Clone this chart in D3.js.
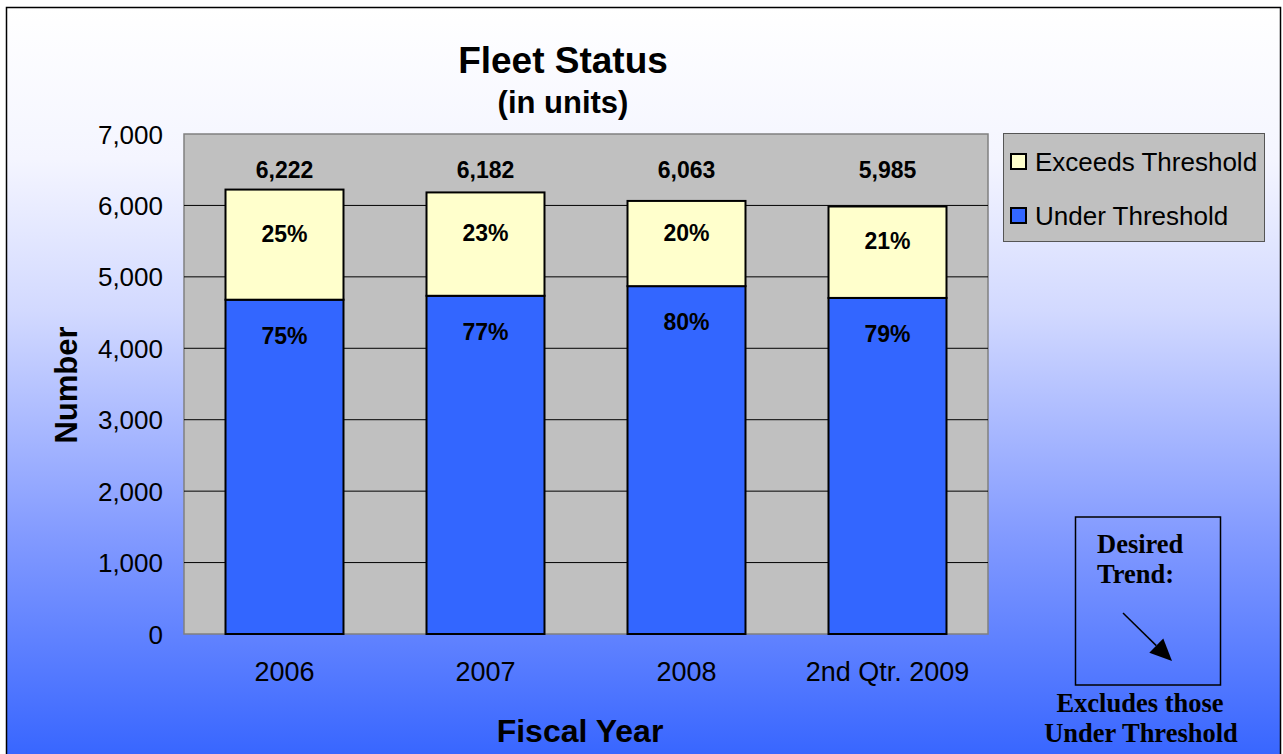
<!DOCTYPE html>
<html><head><meta charset="utf-8">
<script src="https://cdn.jsdelivr.net/npm/d3@7"></script>
<style>body{margin:0;background:#fff;}svg{display:block;}</style>
</head><body>
<script>
const categories = ["2006", "2007", "2008", "2nd Qtr. 2009"];
const underValues = [4680, 4735, 4870, 4705];
const exceedsValues = [1542, 1447, 1193, 1280];
const totals = ["6,222", "6,182", "6,063", "5,985"];
const underPct = ["75%", "77%", "80%", "79%"];
const exceedsPct = ["25%", "23%", "20%", "21%"];
const yTicks = [0, 1000, 2000, 3000, 4000, 5000, 6000, 7000];
const seriesNames = ["Exceeds Threshold", "Under Threshold"];

(function () {
const W = 1283, H = 754;
const svg = d3.select("body").append("svg").attr("width", W).attr("height", H);
const defs = svg.append("defs");
const grad = defs.append("linearGradient").attr("id", "bg").attr("x1", 0).attr("y1", 0).attr("x2", 0).attr("y2", 1);
[[0, "#ffffff"], [0.2, "#f4f5ff"], [0.4, "#d2d9ff"], [0.7, "#8199ff"], [1, "#3463ff"]].forEach(s =>
  grad.append("stop").attr("offset", s[0]).attr("stop-color", s[1]));

svg.append("rect").attr("x", 0).attr("y", 0).attr("width", W).attr("height", H).attr("fill", "#fff");
svg.append("rect").attr("x", 6.5).attr("y", 7.5).attr("width", 1274).attr("height", 760)
  .attr("fill", "url(#bg)").attr("stroke", "#000").attr("stroke-width", 1.5);

const pLeft = 184, pRight = 988, pTop = 134, pBottom = 634;
const x = d3.scaleBand().domain(categories).range([pLeft, pRight]).paddingInner(0.413).paddingOuter(0.2065);
const y = d3.scaleLinear().domain([0, 7000]).range([pBottom, pTop]);

svg.append("rect").attr("x", pLeft).attr("y", pTop).attr("width", pRight - pLeft).attr("height", pBottom - pTop)
  .attr("fill", "#c0c0c0").attr("stroke", "#808080").attr("stroke-width", 1.5);

svg.append("g").selectAll("line").data(yTicks.filter(d => d > 0 && d < 7000)).join("line")
  .attr("x1", pLeft).attr("x2", pRight).attr("y1", d => y(d)).attr("y2", d => y(d))
  .attr("stroke", "#000").attr("stroke-width", 1);

const tf = "Liberation Sans, Arial, sans-serif";
const yAxis = svg.append("g").attr("transform", `translate(${pLeft},0)`)
  .call(d3.axisLeft(y).tickValues(yTicks).tickFormat(d3.format(",")).tickSize(0).tickPadding(21));
yAxis.select(".domain").remove();
yAxis.selectAll("text").attr("font-family", tf).attr("font-size", 26).attr("fill", "#000").attr("dy", "0.35em");

const xAxis = svg.append("g").attr("transform", `translate(0,${pBottom})`)
  .call(d3.axisBottom(x).tickSize(0).tickPadding(0));
xAxis.select(".domain").remove();
xAxis.selectAll("text").attr("font-family", tf).attr("font-size", 27).attr("fill", "#000")
  .attr("dy", 0).attr("y", 47);

const data = categories.map((c, i) => ({ c, u: underValues[i], e: exceedsValues[i], t: totals[i], up: underPct[i], ep: exceedsPct[i] }));
const bars = svg.append("g");
bars.selectAll("rect.u").data(data).join("rect").attr("class", "u")
  .attr("x", d => x(d.c)).attr("width", x.bandwidth())
  .attr("y", d => y(d.u)).attr("height", d => y(0) - y(d.u))
  .attr("fill", "#3366ff").attr("stroke", "#000").attr("stroke-width", 2);
bars.selectAll("rect.e").data(data).join("rect").attr("class", "e")
  .attr("x", d => x(d.c)).attr("width", x.bandwidth())
  .attr("y", d => y(d.u + d.e)).attr("height", d => y(d.u) - y(d.u + d.e))
  .attr("fill", "#ffffcc").attr("stroke", "#000").attr("stroke-width", 2);

const lab = svg.append("g").attr("font-family", tf).attr("font-weight", "bold")
  .attr("font-size", 23).attr("text-anchor", "middle").attr("fill", "#000");
lab.selectAll("text.t").data(data).join("text").attr("class", "t")
  .attr("x", d => x(d.c) + x.bandwidth() / 2).attr("y", y(6500) + 8).text(d => d.t);
lab.selectAll("text.ep").data(data).join("text").attr("class", "ep")
  .attr("x", d => x(d.c) + x.bandwidth() / 2).attr("y", d => (y(d.u) + y(d.u + d.e)) / 2 - 3).text(d => d.ep);
lab.selectAll("text.up").data(data).join("text").attr("class", "up")
  .attr("x", d => x(d.c) + x.bandwidth() / 2).attr("y", d => y(d.u) + 44).text(d => d.up);

svg.append("text").attr("x", 563).attr("y", 73).attr("text-anchor", "middle").attr("font-family", tf)
  .attr("font-weight", "bold").attr("font-size", 37).text("Fleet Status");
svg.append("text").attr("x", 563).attr("y", 113).attr("text-anchor", "middle").attr("font-family", tf)
  .attr("font-weight", "bold").attr("font-size", 31).text("(in units)");
svg.append("text").attr("x", 580).attr("y", 742).attr("text-anchor", "middle").attr("font-family", tf)
  .attr("font-weight", "bold").attr("font-size", 32).text("Fiscal Year");
svg.append("text").attr("transform", "translate(77,385) rotate(-90)").attr("text-anchor", "middle").attr("font-family", tf)
  .attr("font-weight", "bold").attr("font-size", 31).text("Number");

// legend
const lg = svg.append("g");
lg.append("rect").attr("x", 1003.5).attr("y", 133.5).attr("width", 261).attr("height", 108)
  .attr("fill", "#c0c0c0").attr("stroke", "#555").attr("stroke-width", 1);
const legColors = ["#ffffcc", "#3366ff"];
seriesNames.forEach((n, i) => {
  const base = 171 + i * 54;
  lg.append("rect").attr("x", 1011).attr("y", base - 17).attr("width", 15).attr("height", 15)
    .attr("fill", legColors[i]).attr("stroke", "#000").attr("stroke-width", 2);
  lg.append("text").attr("x", 1035).attr("y", base).attr("font-family", tf).attr("font-size", 26).text(n);
});

// desired trend box
const db = svg.append("g");
db.append("rect").attr("x", 1075.5).attr("y", 517).attr("width", 145).attr("height", 168)
  .attr("fill", "none").attr("stroke", "#000").attr("stroke-width", 1.5);
const sf = "Liberation Serif, Times New Roman, serif";
db.append("text").attr("x", 1097).attr("y", 553).attr("font-family", sf)
  .attr("font-weight", "bold").attr("font-size", 26.5).text("Desired");
db.append("text").attr("x", 1097).attr("y", 583).attr("font-family", sf)
  .attr("font-weight", "bold").attr("font-size", 26.5).text("Trend:");
const tip = [1172, 661], start = [1123, 613];
const dx = tip[0] - start[0], dy = tip[1] - start[1], L = Math.hypot(dx, dy);
const ux = dx / L, uy = dy / L, hl = 22, hw = 10;
const bx = tip[0] - ux * hl, by = tip[1] - uy * hl;
db.append("line").attr("x1", start[0]).attr("y1", start[1]).attr("x2", bx).attr("y2", by)
  .attr("stroke", "#000").attr("stroke-width", 1.5);
db.append("path").attr("d", `M${tip[0]},${tip[1]} L${bx - uy * hw},${by + ux * hw} L${bx + uy * hw},${by - ux * hw} Z`)
  .attr("fill", "#000");
db.append("text").attr("x", 1140).attr("y", 712).attr("text-anchor", "middle").attr("font-family", sf)
  .attr("font-weight", "bold").attr("font-size", 26.5).text("Excludes those");
db.append("text").attr("x", 1141).attr("y", 742).attr("text-anchor", "middle").attr("font-family", sf)
  .attr("font-weight", "bold").attr("font-size", 26.5).text("Under Threshold");
})();
</script>
</body></html>
